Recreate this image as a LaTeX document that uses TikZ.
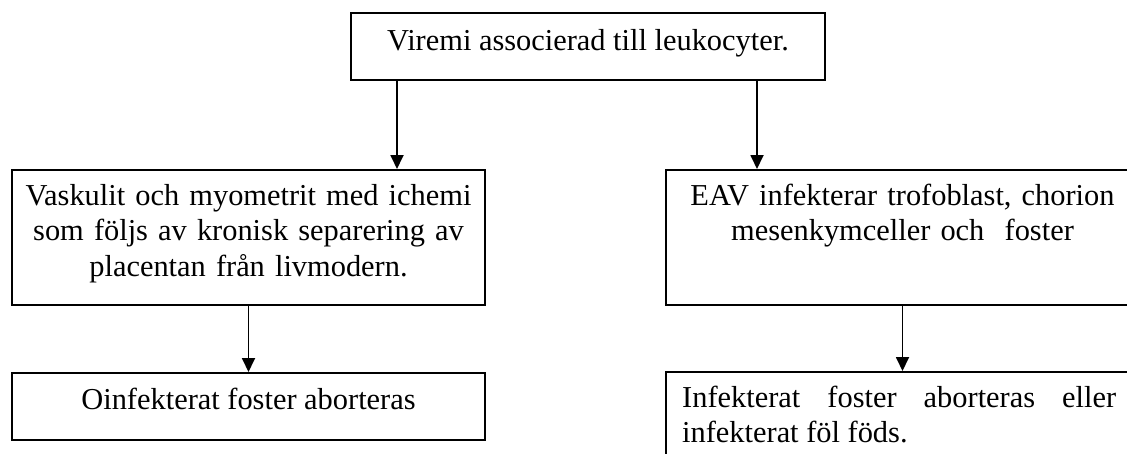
\documentclass[tikz,border=0pt]{standalone}
\usepackage{fontspec}
\setmainfont{Liberation Serif}
\usetikzlibrary{arrows.meta}
\begin{document}
\begin{tikzpicture}[x=1pt,y=1pt,
  box/.style={draw=black, line width=2pt, rectangle, inner sep=0pt},
  txt/.style={inner sep=0pt, anchor=base, font=\fontsize{30.4}{35.5}\selectfont},
  arr/.style={line width=1.8pt, -{Triangle[width=13pt,length=14pt]}}]
\useasboundingbox (0,0) rectangle (1127,-453);
\clip (0,0) rectangle (1127,-453);
% boxes
\node[box, minimum width=474pt, minimum height=67pt] (top) at (588,-46.5) {};
\node[box, minimum width=473pt, minimum height=135pt] (lbox) at (248.5,-237.5) {};
\node[box, minimum width=473pt, minimum height=135pt] (rbox) at (902.5,-237.5) {};
\node[box, minimum width=473pt, minimum height=67pt] (lbot) at (248.5,-406.5) {};
\node[box, minimum width=473pt, minimum height=100pt] (rbot) at (902.5,-422) {};
% texts
\node[txt] (ttop) at ([yshift=-38pt]top.north) {Viremi associerad till leukocyter.};
\node[txt, text width=470pt, align=center] (tlbox) at ([yshift=-36pt]lbox.north) {Vaskulit och myometrit med ichemi\\som följs av kronisk separering av\\placentan från livmodern.};
\node[txt, text width=470pt, align=center] (trbox) at ([yshift=-36pt]rbox.north) {EAV infekterar trofoblast, chorion\\mesenkymceller och\ \ foster};
\node[txt] (tlbot) at ([yshift=-37pt]lbot.north) {Oinfekterat foster aborteras};
\node[txt, text width=434pt, align=justify, anchor=base west] (trbot) at ([xshift=17pt,yshift=-36pt]rbot.north west) {Infekterat foster aborteras eller\linebreak infekterat föl föds.};
% connectors
\coordinate (xa) at (397,0);
\coordinate (xb) at (757,0);
\draw[arr] (top.south -| xa) -- (lbox.north -| xa);
\draw[arr] (top.south -| xb) -- (rbox.north -| xb);
\draw[arr] (lbox.south) -- (lbot.north);
\draw[arr] (rbox.south) -- (rbot.north);
\end{tikzpicture}
\end{document}
